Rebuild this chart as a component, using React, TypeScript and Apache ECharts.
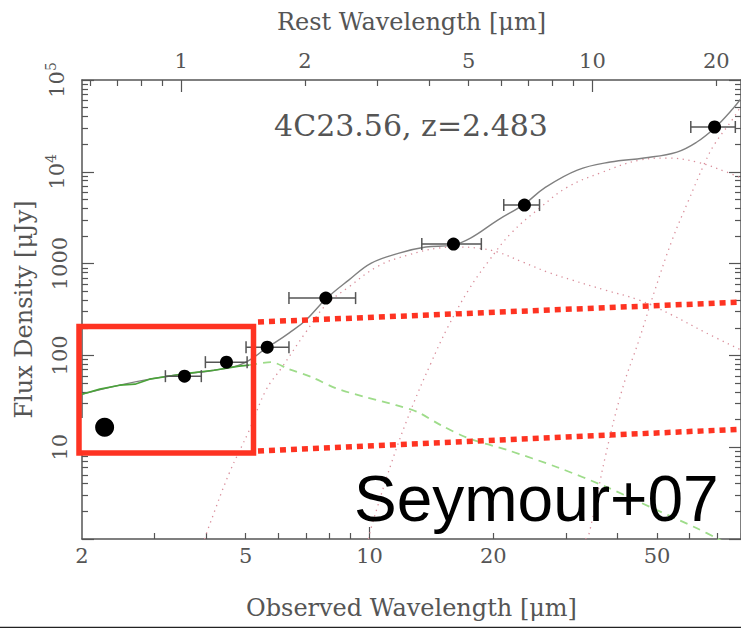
import React, { useEffect, useRef } from 'react';
import * as echarts from 'echarts';

// ---------- data (wavelength in micron, flux density in microJy) ----------
const redshift = 2.483;
const obsMin = 2;
const obsMax = 80;
const fluxMinExp = 0;
const fluxMaxExp = 5;

// photometry with wavelength error bars
const photWave = [3.55, 4.49, 5.64, 7.83, 16.0, 23.8, 69.0];
const photFlux = [59.4, 84.4, 123, 421, 1632, 4341, 30760];
const photWaveLo = [3.19, 3.99, 5.01, 6.37, 13.4, 21.2, 60.4];
const photWaveHi = [3.9, 5.04, 6.37, 9.25, 18.7, 25.9, 77.5];

// extra (annotation) point
const extraWave = [2.27];
const extraFlux = [16.5];

// total model
const modelWave = [2.0, 2.47, 2.92, 3.36, 4.19, 4.82, 5.24, 5.64, 5.86, 6.37, 7.0, 7.83, 8.9, 10.1, 11.8, 13.7, 15.9, 17.6, 20.5, 23.8, 26.6, 32.0, 38.5, 46.5, 55.9, 62.5, 69.0, 76.7, 80.2];
const modelFlux = [37.8, 47.4, 55.1, 60.9, 69.0, 78.3, 95.7, 123, 136, 175, 242, 411, 661, 1013, 1301, 1514, 1591, 1897, 2980, 4450, 6650, 10450, 12770, 14120, 16410, 21100, 29990, 49530, 63660];

// stellar template (solid part and dashed extrapolation)
const starWave = [2.0, 2.21, 2.47, 2.69, 2.92, 3.36, 3.65, 4.19, 4.82, 5.1];
const starFlux = [37.8, 42.9, 47.4, 48.6, 55.1, 60.9, 64.1, 69.0, 76.4, 78.3];
const starDashWave = [5.1, 5.76, 6.37, 7.24, 8.27, 9.78, 11.6, 13.1, 14.9, 17.4, 21.7, 28.6, 37.8, 50.0, 62.5, 69.8, 75.0];
const starDashFlux = [78.3, 84.4, 70.8, 57.9, 44.0, 35.1, 28.7, 24.1, 17.4, 12.5, 9.27, 6.05, 3.66, 2.06, 1.31, 1.02, 0.85];

// dust components
const hotWave = [3.97, 4.08, 4.56, 5.1, 5.6, 6.13, 7.0, 7.83, 8.9, 10.5, 12.4, 14.7, 16.4, 18.3, 20.5, 23.6, 27.1, 31.1, 37.4, 45.2, 54.4, 65.3, 80.2];
const hotFlux = [1.0, 1.41, 5.21, 15.3, 41.8, 74.5, 179, 353, 555, 939, 1238, 1476, 1514, 1476, 1334, 1038, 808, 661, 514, 401, 275, 179, 114];
const warmWave = [9.94, 10.1, 11.3, 12.6, 14.1, 15.5, 17.4, 19.4, 22.1, 26.1, 30.3, 36.4, 45.5, 52.8, 62.5, 73.8, 80.2];
const warmFlux = [1.0, 1.34, 6.69, 25.3, 82.3, 203, 514, 1038, 2149, 4128, 6820, 9700, 13430, 14120, 12770, 9940, 8550];
const coldWave = [33.5, 34.2, 37.4, 41.1, 45.2, 49.4, 54.4, 59.7, 65.3, 69.0, 76.7, 80.2];
const coldFlux = [1.0, 1.155, 7.78, 41.8, 147, 514, 1803, 4920, 12470, 20050, 38530, 53390];

// ticks & labels
const bottomLabels = [2, 5, 10, 20, 50];
const bottomMinor = [3, 4, 5, 6, 7, 8, 9, 20, 30, 40, 50, 60, 70, 80];
const bottomMajor = [10];
const topLabels = [1, 2, 5, 10, 20];
const topMinor = [0.6, 0.7, 0.8, 0.9, 2, 3, 4, 5, 6, 7, 8, 9, 20];
const topMajor = [1, 10];
const yLabelExps = [1, 2, 3, 4, 5];
const yMajorExps = [0, 1, 2, 3, 4, 5];
const yMinorMult = [2, 3, 4, 5, 6, 7, 8, 9];

// ---------- helpers ----------
const L = (v: number) => Math.log10(v);
const pairs = (xs: number[], ys: number[]) => xs.map((x, i) => [L(x), L(ys[i])]);
const serif = '"DejaVu Serif", "Liberation Serif", serif';
const grey = '#555';
const red = '#fe3322';

const yMinor: number[] = [];
for (let d = fluxMinExp; d < fluxMaxExp; d++) for (const k of yMinorMult) yMinor.push(d + L(k));

const numFmt = (v: number) => String(Math.round(Math.pow(10, v)));

function tickOnlyAxis(pos: string, min: number, max: number, values: number[], len: number) {
  return {
    type: 'value',
    position: pos,
    min,
    max,
    axisLine: { show: false, onZero: false },
    axisTick: { show: true, inside: true, length: len, customValues: values, lineStyle: { color: grey, width: 1.2 } },
    axisLabel: { show: false },
    splitLine: { show: false },
  };
}

const xMinB = L(obsMin);
const xMaxB = L(obsMax);
const xMinT = L(obsMin / (1 + redshift));
const xMaxT = L(obsMax / (1 + redshift));

const nameStyle = { fontFamily: serif, fontSize: 24, color: grey };
const labelStyle = { fontFamily: serif, fontSize: 21, color: grey };
const lineStyleAxis = { color: grey, width: 1.5 };

const option: any = {
  animation: false,
  backgroundColor: '#ffffff',
  grid: { left: 82, top: 80, right: -3, bottom: 89, containLabel: false },
  xAxis: [
    {
      type: 'value',
      position: 'bottom',
      min: xMinB,
      max: xMaxB,
      axisLine: { show: true, onZero: false, lineStyle: lineStyleAxis },
      axisTick: { show: true, inside: true, length: 6, customValues: bottomMinor.map(L), lineStyle: { color: grey, width: 1.2 } },
      axisLabel: { customValues: bottomLabels.map(L), formatter: numFmt, margin: 6, ...labelStyle },
      splitLine: { show: false },
      name: 'Observed Wavelength [μm]',
      nameLocation: 'middle',
      nameGap: 57,
      nameTextStyle: nameStyle,
    },
    tickOnlyAxis('bottom', xMinB, xMaxB, bottomMajor.map(L), 12),
    {
      type: 'value',
      position: 'top',
      min: xMinT,
      max: xMaxT,
      axisLine: { show: true, onZero: false, lineStyle: lineStyleAxis },
      axisTick: { show: true, inside: true, length: 6, customValues: topMinor.map(L), lineStyle: { color: grey, width: 1.2 } },
      axisLabel: { customValues: topLabels.map(L), formatter: numFmt, margin: 9, ...labelStyle },
      splitLine: { show: false },
      name: 'Rest Wavelength [μm]',
      nameLocation: 'middle',
      nameGap: 46,
      nameTextStyle: nameStyle,
    },
    tickOnlyAxis('top', xMinT, xMaxT, topMajor.map(L), 12),
  ],
  yAxis: [
    {
      type: 'value',
      position: 'left',
      min: fluxMinExp,
      max: fluxMaxExp,
      axisLine: { show: true, onZero: false, lineStyle: lineStyleAxis },
      axisTick: { show: true, inside: true, length: 6, customValues: yMinor, lineStyle: { color: grey, width: 1.2 } },
      axisLabel: {
        customValues: yLabelExps,
        rotate: 90,
        margin: 12,
        ...labelStyle,
        formatter: (v: number) => {
          const e = Math.round(v);
          return e >= 4 ? `{b|10}{s|${e}}` : String(Math.pow(10, e));
        },
        rich: {
          b: { fontFamily: serif, fontSize: 21, color: grey },
          s: { fontFamily: serif, fontSize: 14, color: grey, verticalAlign: 'top', padding: [0, 0, 12, 0] },
        },
      },
      splitLine: { show: false },
      name: 'Flux Density [μJy]',
      nameLocation: 'middle',
      nameGap: 46,
      nameTextStyle: nameStyle,
    },
    tickOnlyAxis('left', fluxMinExp, fluxMaxExp, yMajorExps, 12),
    {
      type: 'value',
      position: 'right',
      min: fluxMinExp,
      max: fluxMaxExp,
      axisLine: { show: true, onZero: false, lineStyle: lineStyleAxis },
      axisTick: { show: true, inside: true, length: 6, customValues: yMinor, lineStyle: { color: grey, width: 1.2 } },
      axisLabel: { show: false },
      splitLine: { show: false },
    },
    tickOnlyAxis('right', fluxMinExp, fluxMaxExp, yMajorExps, 12),
  ],
  series: [
    {
      type: 'line',
      name: 'model',
      data: pairs(modelWave, modelFlux),
      showSymbol: false,
      smooth: 0.4,
      lineStyle: { color: '#808080', width: 1.4 },
      z: 3,
    },
    {
      type: 'line',
      name: 'stellar',
      data: pairs(starWave, starFlux),
      showSymbol: false,
      lineStyle: { color: '#4aa23a', width: 1.6 },
      z: 4,
    },
    {
      type: 'line',
      name: 'stellar extrapolation',
      data: pairs(starDashWave, starDashFlux),
      showSymbol: false,
      smooth: 0.3,
      lineStyle: { color: '#9edc8a', width: 1.8, type: [8, 6] },
      z: 2,
    },
    ...[
      [hotWave, hotFlux],
      [warmWave, warmFlux],
      [coldWave, coldFlux],
    ].map(([w, f], i) => ({
      type: 'line',
      name: 'dust ' + i,
      data: pairs(w, f),
      showSymbol: false,
      smooth: 0.4,
      lineStyle: { color: '#d98e9b', width: 1.3, type: [1.3, 4.5] },
      z: 2,
    })),
    {
      type: 'custom',
      name: 'errors',
      data: photWave.map((w, i) => [L(photWaveLo[i]), L(photWaveHi[i]), L(photFlux[i])]),
      encode: { x: [0, 1], y: 2 },
      renderItem: (params: any, api: any) => {
        const p0 = api.coord([api.value(0), api.value(2)]);
        const p1 = api.coord([api.value(1), api.value(2)]);
        const st = { stroke: '#555', lineWidth: 1.5 };
        const h = 6;
        return {
          type: 'group',
          children: [
            { type: 'line', shape: { x1: p0[0], y1: p0[1], x2: p1[0], y2: p1[1] }, style: st },
            { type: 'line', shape: { x1: p0[0], y1: p0[1] - h, x2: p0[0], y2: p0[1] + h }, style: st },
            { type: 'line', shape: { x1: p1[0], y1: p1[1] - h, x2: p1[0], y2: p1[1] + h }, style: st },
          ],
        };
      },
      z: 5,
    },
    {
      type: 'scatter',
      name: 'photometry',
      data: pairs(photWave, photFlux),
      symbolSize: 13,
      itemStyle: { color: '#000', opacity: 1 },
      z: 6,
    },
    {
      type: 'scatter',
      name: 'extra',
      data: pairs(extraWave, extraFlux),
      symbolSize: 19,
      itemStyle: { color: '#000', opacity: 1 },
      z: 12,
    },
  ],
  graphic: {
    elements: [
      { type: 'rect', silent: true, z: 1, shape: { x: 80, y: 418, width: 60, height: 33 }, style: { fill: '#fff' } },
      { type: 'rect', silent: true, z: 20, shape: { x: 79, y: 326.5, width: 174.5, height: 126.5 }, style: { fill: 'none', stroke: red, lineWidth: 5.5 } },
      { type: 'line', silent: true, z: 20, shape: { x1: 258, y1: 322, x2: 745, y2: 302 }, style: { stroke: red, lineWidth: 5.5, lineDash: [6, 5] } },
      { type: 'line', silent: true, z: 20, shape: { x1: 258, y1: 451, x2: 745, y2: 429 }, style: { stroke: red, lineWidth: 5.5, lineDash: [6, 5] } },
      { type: 'text', silent: true, z: 20, x: 411, y: 125, style: { text: '4C23.56, z=2.483', fontFamily: serif, fontSize: 30, fill: grey, align: 'center', verticalAlign: 'middle' } },
      { type: 'text', silent: true, z: 20, x: 354, y: 499, style: { text: 'Seymour+07', fontFamily: '"Liberation Sans", Arial, sans-serif', fontSize: 64, fill: '#000', align: 'left', verticalAlign: 'middle' } },
      { type: 'line', silent: true, z: 20, shape: { x1: 0, y1: 627.5, x2: 741, y2: 627.5 }, style: { stroke: '#222', lineWidth: 1.5 } },
    ],
  },
};

export default function App() {
  const ref = useRef<HTMLDivElement>(null);
  useEffect(() => {
    if (!ref.current) return;
    const chart = echarts.init(ref.current, undefined, { renderer: 'svg' });
    chart.setOption(option);
    return () => chart.dispose();
  }, []);
  return (
    <div
      ref={ref}
      style={{ position: 'absolute', left: 0, top: 0, width: 741, height: 628, background: '#fff' }}
    />
  );
}
